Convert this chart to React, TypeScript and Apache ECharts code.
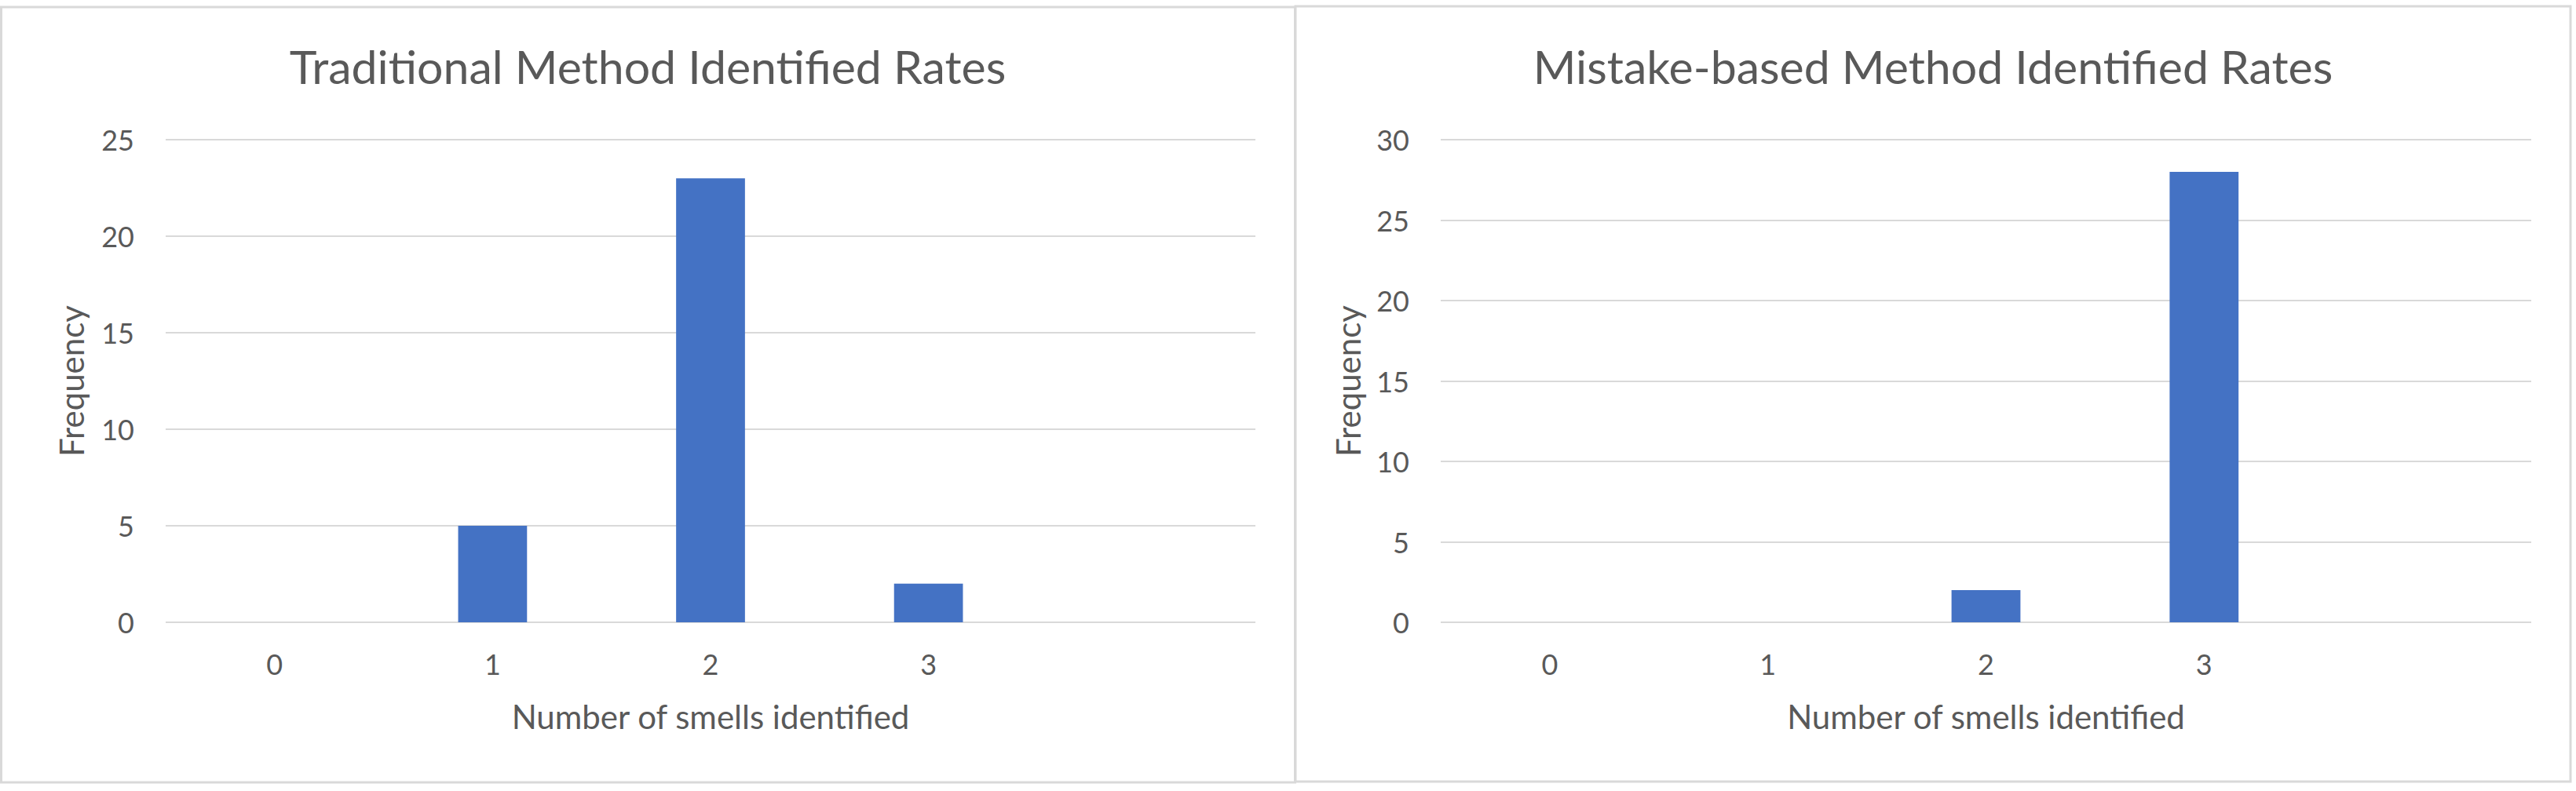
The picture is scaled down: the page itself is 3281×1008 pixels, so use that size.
import React, { useEffect, useRef } from "react";
import * as echarts from "echarts";

// ---- data ----
const categories = ["0", "1", "2", "3", ""];
const traditionalFrequency: (number | null)[] = [0, 5, 23, 2, null];
const mistakeFrequency: (number | null)[] = [0, 0, 2, 28, null];
const traditionalAxisMax = 25;
const mistakeAxisMax = 30;
const axisInterval = 5;
const chartTitles = [
  "Traditional Method Identified Rates",
  "Mistake-based Method Identified Rates",
];
const xAxisTitle = "Number of smells identified";
const yAxisTitle = "Frequency";

const FONT = "Lato";
const TEXT = "#595959";
const GRID_LINE = "#d9d9d9";
const BAR = "#4472C4";

function buildOption() {
  const grids = [
    { left: 211, top: 178, width: 1388, height: 615 },
    { left: 1835, top: 178, width: 1389, height: 615 },
  ];
  const yMax = [traditionalAxisMax, mistakeAxisMax];
  const values = [traditionalFrequency, mistakeFrequency];
  const yNameGap = [99, 97];
  return {
    animation: false,
    backgroundColor: "#ffffff",
    textStyle: { fontFamily: FONT, color: TEXT },
    title: chartTitles.map((t, i) => ({
      text: t,
      left: i === 0 ? 825 : 2462,
      top: 55,
      padding: 0,
      textAlign: "center",
      textStyle: {
        fontFamily: FONT,
        fontSize: 59,
        fontWeight: "normal",
        color: TEXT,
      },
    })),
    graphic: [
      {
        type: "rect",
        shape: { x: 1.5, y: 9, width: 1648, height: 988 },
        style: { fill: "none", stroke: GRID_LINE, lineWidth: 3 },
        silent: true,
      },
      {
        type: "rect",
        shape: { x: 1650, y: 8, width: 1624, height: 988 },
        style: { fill: "none", stroke: GRID_LINE, lineWidth: 3 },
        silent: true,
      },
    ],
    grid: grids.map((g) => ({
      ...g,
      containLabel: false,
      outerBoundsMode: "none",
    })),
    xAxis: grids.map((_, i) => ({
      type: "category",
      gridIndex: i,
      data: categories,
      name: xAxisTitle,
      nameLocation: "middle",
      nameGap: 99,
      nameTextStyle: { fontFamily: FONT, fontSize: 42, color: TEXT },
      axisLine: { show: false },
      axisTick: { show: false },
      axisLabel: {
        fontFamily: FONT,
        fontSize: 36,
        color: TEXT,
        margin: 35,
        interval: 0,
      },
      splitLine: { show: false },
    })),
    yAxis: grids.map((_, i) => ({
      type: "value",
      gridIndex: i,
      min: 0,
      max: yMax[i],
      interval: axisInterval,
      name: yAxisTitle,
      nameLocation: "middle",
      nameRotate: 90,
      nameGap: yNameGap[i],
      nameTextStyle: { fontFamily: FONT, fontSize: 42, color: TEXT },
      axisLine: { show: false },
      axisTick: { show: false },
      axisLabel: { fontFamily: FONT, fontSize: 36, color: TEXT, margin: 40 },
      splitLine: { show: true, lineStyle: { color: GRID_LINE, width: 2 } },
    })),
    series: values.map((v, i) => ({
      type: "bar",
      xAxisIndex: i,
      yAxisIndex: i,
      data: v,
      barWidth: "31.6%",
      itemStyle: { color: BAR },
      silent: true,
    })),
  };
}

export default function App() {
  const ref = useRef<HTMLDivElement>(null);
  useEffect(() => {
    document.body.style.margin = "0";
    document.body.style.background = "#ffffff";
    if (!ref.current) return;
    const chart = echarts.init(ref.current, undefined, { renderer: "svg" });
    chart.setOption(buildOption() as any);
    return () => chart.dispose();
  }, []);
  return (
    <div
      ref={ref}
      style={{ position: "fixed", left: 0, top: 0, width: 3281, height: 1008 }}
    />
  );
}
